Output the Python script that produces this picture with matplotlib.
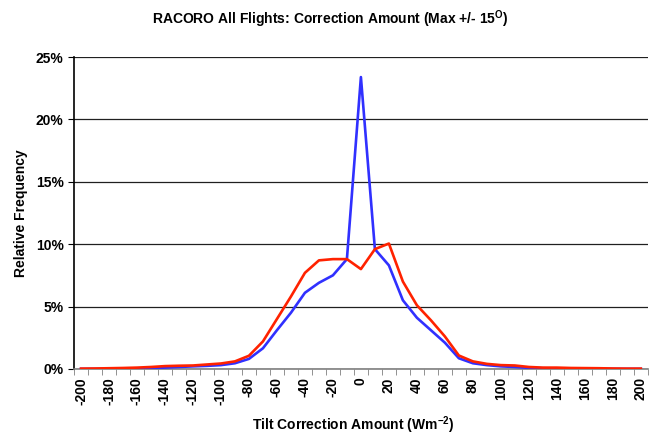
import numpy as np
import matplotlib
matplotlib.use("Agg")
import matplotlib.pyplot as plt
from matplotlib.ticker import FixedLocator, FuncFormatter

plt.rcParams['font.family'] = ['Liberation Sans', 'DejaVu Sans']
plt.rcParams['font.weight'] = 'bold'
plt.rcParams['mathtext.fontset'] = 'custom'
plt.rcParams['mathtext.rm'] = 'Liberation Sans:bold'
plt.rcParams['mathtext.default'] = 'rm'

# correction amount bins (Wm-2)
bins = list(range(-200, 201, 10))

# relative frequency (%)
blue_pct = [0.0, 0.0, 0.0, 0.01, 0.03, 0.06, 0.1, 0.15, 0.2, 0.24,
            0.3, 0.45, 0.8, 1.65, 3.1, 4.5, 6.1, 6.9, 7.5, 8.8,
            23.4, 9.6, 8.3, 5.5, 4.1, 3.1, 2.1, 0.85, 0.45, 0.3,
            0.2, 0.15, 0.08, 0.05, 0.03, 0.02, 0.01, 0.0, 0.0, 0.0, 0.0]
red_pct = [0.02, 0.03, 0.05, 0.07, 0.1, 0.15, 0.22, 0.25, 0.27, 0.35,
           0.43, 0.6, 1.05, 2.2, 4.0, 5.8, 7.7, 8.7, 8.8, 8.8,
           8.0, 9.6, 10.05, 7.0, 5.1, 3.9, 2.6, 1.07, 0.6, 0.4,
           0.3, 0.27, 0.15, 0.1, 0.1, 0.07, 0.06, 0.05, 0.03, 0.02, 0.02]

fig = plt.figure(figsize=(6.55, 4.36), dpi=100)
ax = fig.add_axes([0.113, 0.154, 0.876, 0.715])

idx = np.arange(len(bins))
ax.plot(idx, blue_pct, color='#3030FF', lw=1.9, zorder=3)
ax.plot(idx, red_pct, color='#FF2200', lw=1.9, zorder=4)

ax.set_xlim(-0.5, len(bins) - 0.5)
ax.set_ylim(0, 25)

# category labels every other bin, tick marks on bin boundaries
ax.xaxis.set_major_locator(FixedLocator(idx[::2]))
ax.set_xticklabels([str(b) for b in bins[::2]], rotation=90, fontsize=10, fontweight='bold')
ax.xaxis.set_minor_locator(FixedLocator(np.arange(-0.5, len(bins), 1.0)))
ax.tick_params(axis='x', which='major', length=0, pad=6)
ax.tick_params(axis='x', which='minor', length=4, direction='out', color='#808080')

ax.yaxis.set_major_locator(FixedLocator([0, 5, 10, 15, 20, 25]))
ax.yaxis.set_major_formatter(FuncFormatter(lambda v, p: f"{int(v)}%"))
ax.tick_params(axis='y', length=4, direction='out', labelsize=10)
for lab in ax.get_yticklabels():
    lab.set_fontweight('bold')

ax.grid(axis='y', color='#202020', lw=0.9)
ax.set_axisbelow(True)
for s in ['top', 'right']:
    ax.spines[s].set_visible(False)
ax.spines['left'].set_color('black')
ax.spines['left'].set_linewidth(1.2)
ax.spines['bottom'].set_color('#808080')
ax.spines['bottom'].set_linewidth(1.2)

fig.text(0.505, 0.955, 'RACORO All Flights: Correction Amount (Max +/- 15$^{O}$)',
         ha='center', va='center', fontsize=10, fontweight='bold')
fig.text(0.54, 0.025, 'Tilt Correction Amount (Wm$^{-2}$)',
         ha='center', va='center', fontsize=10, fontweight='bold')
fig.text(0.032, 0.51, 'Relative Frequency', rotation=90,
         ha='center', va='center', fontsize=10, fontweight='bold')

fig.savefig('out.png', dpi=100)
